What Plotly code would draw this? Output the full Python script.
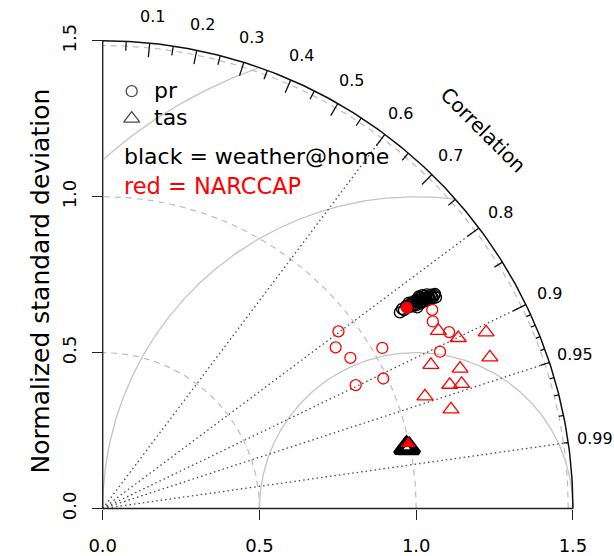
import numpy as np
import plotly.graph_objects as go

# ---------------- data (normalized std-dev space: x = sd*cor, y = sd*sqrt(1-cor^2)) -------------
# weather@home precipitation (black open circles)
wah_pr_x = [0.948, 0.961, 0.974, 0.980, 0.987, 0.996, 0.999, 1.006, 1.012, 1.015, 1.022, 1.025,
            1.031, 1.034, 1.041, 1.044, 1.050, 1.057, 1.063, 0.990, 1.003, 1.019, 1.034, 0.968,
            1.010, 1.028, 1.047, 0.955, 0.983, 0.993, 1.000, 1.018, 1.038, 1.053, 1.060, 0.977,
            1.008, 1.026]
wah_pr_y = [0.629, 0.636, 0.645, 0.655, 0.661, 0.655, 0.668, 0.661, 0.671, 0.658, 0.674, 0.665,
            0.677, 0.668, 0.680, 0.671, 0.680, 0.684, 0.677, 0.649, 0.645, 0.684, 0.687, 0.650,
            0.676, 0.682, 0.686, 0.640, 0.648, 0.664, 0.652, 0.662, 0.676, 0.675, 0.688, 0.660,
            0.680, 0.672]
# weather@home temperature (black open triangles, overlapping)
wah_tas_x = [0.966, 0.971, 0.975, 0.969, 0.974, 0.964, 0.978]
wah_tas_y = [0.192, 0.196, 0.191, 0.199, 0.194, 0.193, 0.195]
# NARCCAP precipitation (red open circles)
narc_pr_x = [1.051, 1.053, 1.105, 1.076, 0.752, 0.743, 0.790, 0.892, 0.895, 0.807]
narc_pr_y = [0.637, 0.600, 0.566, 0.503, 0.568, 0.517, 0.483, 0.515, 0.417, 0.396]
# NARCCAP temperature (red open triangles)
narc_tas_x = [1.071, 1.134, 1.223, 1.235, 1.047, 1.140, 1.107, 1.145, 1.028, 1.111]
narc_tas_y = [0.570, 0.547, 0.565, 0.485, 0.461, 0.449, 0.397, 0.400, 0.360, 0.318]
# filled red markers
narc_pr_fill_x = [0.970]
narc_pr_fill_y = [0.644]
narc_tas_fill_x = [0.975]
narc_tas_fill_y = [0.208]

# ---------------- diagram furniture -------------
max_sd = 1.5
axis_ticks = [0.0, 0.5, 1.0, 1.5]
axis_ticktext = ["0.0", "0.5", "1.0", "1.5"]
sd_arcs = [0.5, 1.0, 1.485]
rms_arcs = [0.5, 1.0, 1.5]
corr_lines = [0.6, 0.8, 0.9, 0.95, 0.99]
corr_labels = [0.1, 0.2, 0.3, 0.4, 0.5, 0.6, 0.7, 0.8, 0.9, 0.95, 0.99]
big_ticks = [0.1, 0.2, 0.3, 0.4, 0.5, 0.6, 0.7, 0.8, 0.9]
med_ticks = [0.05, 0.15, 0.25, 0.35, 0.45, 0.55, 0.65, 0.75, 0.85, 0.95]
sml_ticks = [0.91, 0.92, 0.93, 0.94, 0.96, 0.97, 0.98, 0.99]
legend_names = ["pr", "tas"]
legend_symbols = ["circle-open", "triangle-up-open"]

FONT = "DejaVu Sans"
W, H = 614, 556
PX = 313.5          # pixels per unit
OX, OY = 102.7, 511.3  # origin in pixels
xr = [-OX / PX, (W - OX) / PX]
yr = [-(H - OY) / PX, OY / PX]


def px2x(p):
    return (p - OX) / PX


def px2y(p):
    return (OY - p) / PX


fig = go.Figure()


def add_line(xs, ys, color, width, dash="solid"):
    fig.add_trace(go.Scatter(x=xs, y=ys, mode="lines", hoverinfo="skip", showlegend=False,
                             line=dict(color=color, width=width, dash=dash)))


th = np.linspace(0, np.pi / 2, 200)
# dashed sd arcs
for r in sd_arcs:
    add_line(r * np.cos(th), r * np.sin(th), "#BDBDBD", 1.2, "6px,5px")

# RMS arcs around reference point (1,0)
for g in rms_arcs:
    t = np.linspace(0, np.pi, 600)
    xs = 1 + g * np.cos(t)
    ys = g * np.sin(t)
    keep = (xs ** 2 + ys ** 2 <= max_sd ** 2 + 1e-9) & (xs >= 0)
    add_line(xs[keep], ys[keep], "#C4C4C4", 1.3)

# dotted correlation rays
rx, ry = [], []
for c in corr_lines:
    a = np.arccos(c)
    rx += [0, max_sd * np.cos(a), None]
    ry += [0, max_sd * np.sin(a), None]
add_line(rx, ry, "#4A4A4A", 1.3, "1.5px,3px")

# axis lines and outer arc
add_line([0, max_sd], [0, 0], "#222222", 1.4)
add_line([0, 0], [0, max_sd], "#222222", 1.4)
add_line(max_sd * np.cos(th), max_sd * np.sin(th), "#111111", 1.5)

# correlation ticks on the outer arc
tx, ty = [], []
for lst, frac in ((big_ticks, 0.97), (med_ticks, 0.98), (sml_ticks, 0.99)):
    for c in lst:
        a = np.arccos(c)
        tx += [max_sd * np.cos(a), frac * max_sd * np.cos(a), None]
        ty += [max_sd * np.sin(a), frac * max_sd * np.sin(a), None]
add_line(tx, ty, "#111111", 1.3)


# ---------------- points -------------
def add_pts(xs, ys, symbol, color, size, lw, fill=None):
    fig.add_trace(go.Scatter(x=xs, y=ys, mode="markers", showlegend=False, hoverinfo="skip",
                             cliponaxis=False,
                             marker=dict(symbol=symbol, size=size, color=fill if fill else color,
                                         line=dict(color=color, width=lw))))


add_pts(wah_pr_x, wah_pr_y, "circle-open", "black", 11, 1.4)
add_pts(wah_tas_x, wah_tas_y, "triangle-up-open", "black", 18, 3.5)
add_pts(narc_pr_x, narc_pr_y, "circle-open", "#FF0000", 11, 1.3)
add_pts(narc_tas_x, narc_tas_y, "triangle-up-open", "#FF0000", 14, 1.3)
add_pts(narc_pr_fill_x, narc_pr_fill_y, "circle", "#FF0000", 12, 0, "#FF0000")
add_pts(narc_tas_fill_x, narc_tas_fill_y, "triangle-up", "#FF0000", 13, 0, "#FF0000")

# legend key (symbols + labels)
leg_y_px = [91.7, 119.3]
fig.add_trace(go.Scatter(x=[px2x(131.7)] * 2, y=[px2y(p) for p in leg_y_px], mode="markers",
                         showlegend=False, hoverinfo="skip", cliponaxis=False,
                         marker=dict(symbol=legend_symbols, size=[11, 14], color="black",
                                     line=dict(color="black", width=1.3))))

# ---------------- text -------------
ann = []
for c in corr_labels:
    a = np.arccos(c)
    ann.append(dict(x=1.585 * np.cos(a), y=1.585 * np.sin(a), text=f"{c:g}", showarrow=False,
                    xanchor="center", yanchor="middle", font=dict(size=16, color="black", family=FONT)))
ann.append(dict(x=1.716 * np.cos(np.pi / 4), y=1.716 * np.sin(np.pi / 4), text="Correlation",
                showarrow=False, textangle=45, xanchor="center", yanchor="middle",
                font=dict(size=20, color="black", family=FONT)))
ann.append(dict(x=px2x(40), y=px2y(283), text="Normalized standard deviation", showarrow=False,
                textangle=-90, xanchor="center", yanchor="middle",
                font=dict(size=25, color="black", family=FONT)))
for name, yp in zip(legend_names, leg_y_px):
    ann.append(dict(x=px2x(152), y=px2y(yp - 1), text=name, showarrow=False,
                    xanchor="left", yanchor="middle", font=dict(size=22, color="black", family=FONT)))
ann.append(dict(x=px2x(122), y=px2y(157), text="black = weather@home", showarrow=False,
                xanchor="left", yanchor="middle", font=dict(size=22, color="black", family=FONT)))
ann.append(dict(x=px2x(122), y=px2y(187), text="red = NARCCAP", showarrow=False,
                xanchor="left", yanchor="middle", font=dict(size=22.5, color="#FF0000", family=FONT)))

fig.update_layout(
    width=W, height=H, margin=dict(l=0, r=0, t=0, b=0),
    paper_bgcolor="white", plot_bgcolor="white",
    annotations=ann,
    showlegend=False,
    xaxis=dict(range=xr, domain=[0, 1], anchor="free", position=(0 - yr[0]) / (yr[1] - yr[0]),
               showgrid=False, zeroline=False, showline=False,
               tickmode="array", tickvals=axis_ticks, ticktext=axis_ticktext,
               ticks="outside", ticklen=10, tickwidth=1.4, tickcolor="#222222",
               ticklabelstandoff=11,
               tickfont=dict(size=18, color="black", family=FONT)),
    yaxis=dict(range=yr, domain=[0, 1], anchor="free", position=(0 - xr[0]) / (xr[1] - xr[0]),
               showgrid=False, zeroline=False, showline=False,
               tickmode="array", tickvals=axis_ticks, ticktext=axis_ticktext,
               ticks="outside", ticklen=11, tickwidth=1.4, tickcolor="#222222",
               tickangle=-90, ticklabelstandoff=9,
               tickfont=dict(size=18, color="black", family=FONT)),
)

fig.write_html("out.html")
